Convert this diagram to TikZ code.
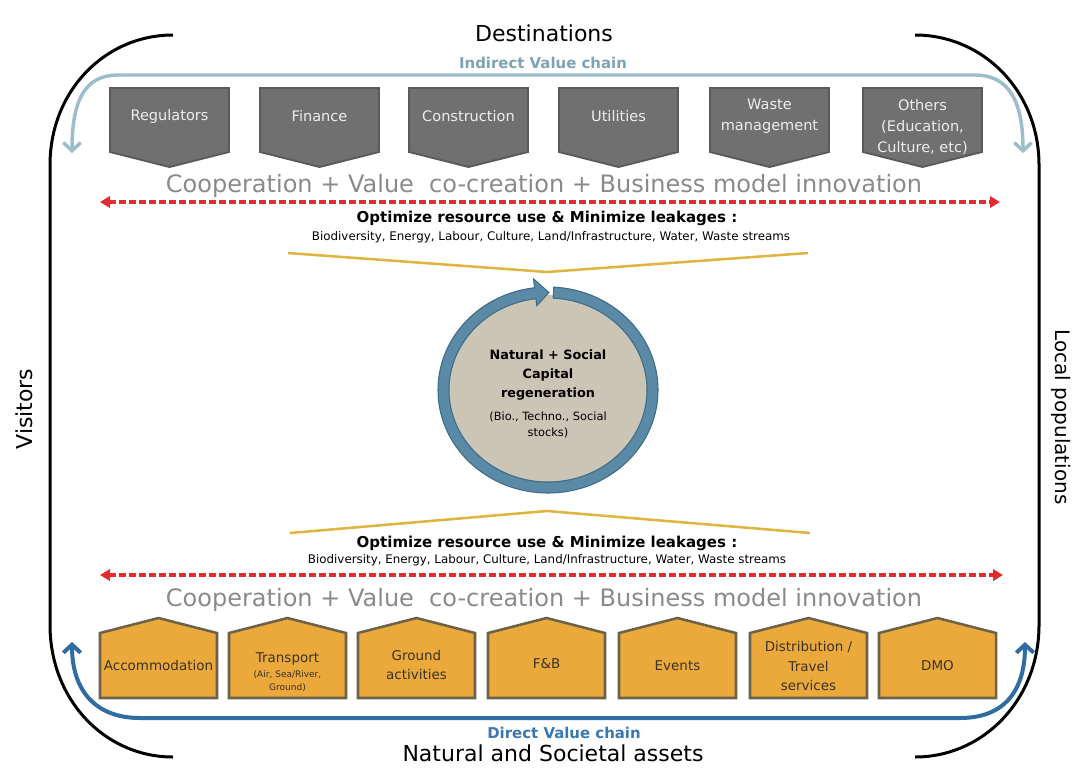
\documentclass[tikz,border=0pt]{standalone}
\usepackage{fontspec}
\setmainfont{DejaVu Sans}
\usetikzlibrary{arrows.meta}

\definecolor{boxgrey}{HTML}{707070}
\definecolor{boxedge}{HTML}{5A5A5A}
\definecolor{boxtext}{HTML}{EDEDED}
\definecolor{housefill}{HTML}{EBA93C}
\definecolor{houseedge}{HTML}{6B6248}
\definecolor{housetext}{HTML}{3A3226}
\definecolor{coopgrey}{HTML}{8A8A8A}
\definecolor{reddash}{HTML}{E22A2F}
\definecolor{indirectc}{HTML}{9CBDCC}
\definecolor{indirectt}{HTML}{7EA3B5}
\definecolor{directc}{HTML}{2F6CA3}
\definecolor{directt}{HTML}{3A78B0}
\definecolor{ringc}{HTML}{5A8AA6}
\definecolor{ringedge}{HTML}{3E6B85}
\definecolor{discc}{HTML}{CBC5B5}
\definecolor{gold}{HTML}{DFB43F}

\newcommand\smallline{\fontsize{6.75}{8}\selectfont}

\tikzset{chainbarb/.tip={Straight Barb[length=6pt,width=13pt]}}

\begin{document}
\begin{tikzpicture}[x=0.75pt,y=-0.75pt,
  bracket/.style={line width=2.25pt, black},
  greybox/.style={fill=boxgrey, draw=boxedge, line width=1.4pt},
  greylabel/.style={text=boxtext, font=\fontsize{10.9}{15.6}\selectfont, align=center, inner sep=0pt},
  housebox/.style={fill=housefill, draw=houseedge, line width=1.9pt},
  houselabel/.style={text=housetext, font=\fontsize{10.1}{14.6}\selectfont, align=center, inner sep=0pt},
  headline/.style={font=\fontsize{16.5}{20}\selectfont, anchor=base, inner sep=0pt},
  chainlabel/.style={font=\bfseries\fontsize{11.2}{14}\selectfont, anchor=base, inner sep=0pt},
  coop/.style={text=coopgrey, font=\fontsize{18}{22}\selectfont, anchor=base, inner sep=0pt},
  optim/.style={font=\bfseries\fontsize{11.25}{14}\selectfont, anchor=base, inner sep=0pt},
  flows/.style={font=\fontsize{8.9}{11}\selectfont, anchor=base, inner sep=0pt},
  leak/.style={gold, line width=1.9pt},
  redarrow/.style={reddash, line width=2.4pt, dash pattern=on 5pt off 2.5pt,
    {Triangle[length=7.5pt,width=8.5pt]}-{Triangle[length=7.5pt,width=8.5pt]}},
]
\useasboundingbox[fill=white] (0,0) rectangle (1073,768);

% outer brackets
\draw[bracket] (173,35) .. controls (105,35) and (50,91) .. (50,165) -- (50,625)
  .. controls (50,700) and (105,757) .. (173,757);
\draw[bracket] (915,35) .. controls (983,35) and (1039,91) .. (1039,165) -- (1039,625)
  .. controls (1039,700) and (983,757) .. (915,757);

% outer labels
\node[headline] (dest) at (544,41) {Destinations};
\node[headline] (assets) at (553,761) {Natural and Societal assets};
\node[font=\fontsize{16.5}{20}\selectfont, rotate=90, inner sep=0pt] (visitors) at (24,409) {Visitors};
\node[font=\fontsize{15}{18}\selectfont, rotate=-90, inner sep=0pt] (locals) at (1061,417) {Local populations};

% indirect value chain
\node[chainlabel, text=indirectt] (indirect) at (543,68) {Indirect Value chain};
\draw[indirectc, line width=2.6pt, chainbarb-chainbarb]
  (72,153) .. controls (72,100) and (85,75) .. (118,75) -- (975,75)
  .. controls (1008,75) and (1023,100) .. (1023,153);

% supporting sectors
\foreach \x/\n/\y/\t in {110/reg/116/Regulators, 260/fin/116/Finance,
    409/con/116/Construction, 559/uti/116/Utilities,
    710/was/116/{Waste\\management}, 863/oth/127/{Others\\(Education,\\Culture, etc)}} {
  \path[greybox] (\x,88) -- ++(119,0) -- ++(0,64) -- ++(-59.5,15) -- ++(-59.5,-15) -- cycle;
  \node[greylabel] (\n) at ({\x+59.5},\y) {\t};
}

% cooperation band, top
\node[coop] (coopT) at (544,192) {Cooperation + Value\ \ co-creation + Business model innovation};
\coordinate (redTL) at (100,202);
\coordinate (redTR) at (1000,202);
\draw[redarrow] (redTL) -- (redTR);

\node[optim] (optT) at (547,222) {Optimize resource use \& Minimize leakages :};
\node[flows] (flowT) at (551,240) {Biodiversity, Energy, Labour, Culture, Land/Infrastructure, Water, Waste streams};
\draw[leak] (288,253) -- (547,272) -- (808,253);

% capital regeneration cycle
\coordinate (cc) at (548,390);
\fill[discc] (cc) ellipse [x radius=102, y radius=95];
\filldraw[fill=ringc, draw=ringedge, line width=0.8pt]
  ([shift={(cc)}]-87:110 and 103) arc[start angle=-87, end angle=263, x radius=110, y radius=103]
  -- ([shift={(cc)}]263:119 and 112)
  -- ([shift={(cc)}]270.5:104.5 and 97.5)
  -- ([shift={(cc)}]263:92 and 85)
  -- ([shift={(cc)}]263:99 and 92)
  arc[start angle=263, end angle=-87, x radius=99, y radius=92]
  -- cycle;
\node[font=\bfseries\fontsize{9.6}{14.6}\selectfont, align=center, inner sep=0pt] (capital) at (548,375)
  {Natural + Social\\Capital\\regeneration};
\node[font=\fontsize{8.55}{12}\selectfont, align=center, inner sep=0pt] (stocks) at (548,425)
  {(Bio., Techno., Social\\stocks)};

% leakages, bottom
\draw[leak] (290,533) -- (547,511) -- (810,533);
\node[optim] (optB) at (547,547) {Optimize resource use \& Minimize leakages :};
\node[flows] (flowB) at (547,563) {Biodiversity, Energy, Labour, Culture, Land/Infrastructure, Water, Waste streams};
\coordinate (redBL) at (100,575);
\coordinate (redBR) at (1003,575);
\draw[redarrow] (redBL) -- (redBR);
\node[coop] (coopB) at (544,606) {Cooperation + Value\ \ co-creation + Business model innovation};

% core tourism activities
\foreach \x/\n/\y/\t in {100/acc/665/Accommodation, 358/gro/665/{Ground\\activities},
    488/fnb/664/F\&B, 619/eve/666/Events, 750/dis/666/{Distribution /\\Travel\\services},
    879/dmo/666/DMO, 229/tra/672/{Transport\\[-3.4pt]{\smallline(Air, Sea/River,}\\[-4.8pt]{\smallline Ground)}}} {
  \path[housebox] (\x,698) -- ++(0,-65) -- ++(58.5,-15) -- ++(58.5,15) -- ++(0,65) -- cycle;
  \node[houselabel] (\n) at ({\x+58.5},\y) {\t};
}

% direct value chain
\draw[directc, line width=3pt, chainbarb-chainbarb]
  (72,642) .. controls (72,690) and (95,718) .. (140,718) -- (960,718)
  .. controls (1005,718) and (1025,690) .. (1025,642);
\node[chainlabel, text=directt] (direct) at (564,738) {Direct Value chain};
\end{tikzpicture}
\end{document}
